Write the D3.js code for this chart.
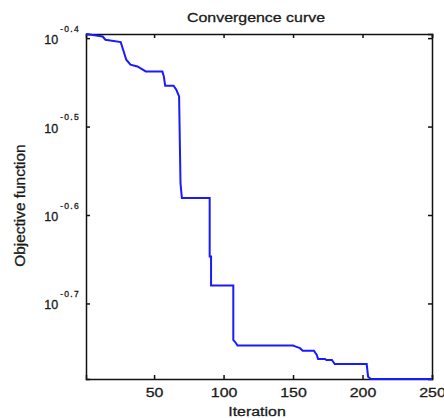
<!DOCTYPE html>
<html>
<head>
<meta charset="utf-8">
<script src="https://cdn.jsdelivr.net/npm/d3@7"></script>
<style>
  body { margin: 0; background: #fff; }
  text { font-family: "Liberation Sans", Arial, sans-serif; fill: #1a1a1a; stroke: #1a1a1a; stroke-width: 0.3; }
</style>
</head>
<body>
<svg id="chart" width="444" height="418"></svg>
<script>
// convergence history (breakpoints of the step curve)
var iterations = [1, 13, 15, 26, 30, 33, 38, 44, 56, 57, 58, 64, 66, 68, 69, 70, 90, 90, 91, 91,
                  107, 107, 109, 110, 150, 152, 155, 157, 165, 167, 168, 173, 174, 178, 180, 203, 204, 206, 250]
var objective = [0.4024, 0.3998, 0.3964, 0.3940, 0.3763, 0.3715, 0.3698, 0.3650, 0.3650, 0.3603,
                 0.3517, 0.3517, 0.3480, 0.3420, 0.2730, 0.2625, 0.2625, 0.2254, 0.2254, 0.2091,
                 0.2091, 0.1815, 0.1799, 0.1788, 0.1788, 0.1783, 0.1776, 0.1764, 0.1764, 0.1746,
                 0.1727, 0.1727, 0.1722, 0.1722, 0.1704, 0.1704, 0.1649, 0.1639, 0.1639]
var xTicks = [50, 100, 150, 200, 250]
var yTickExps = ["-0.4", "-0.5", "-0.6", "-0.7"]
var xRange = [1, 250]

var margin = {top: 34, right: 12, bottom: 39, left: 86}
var width = 444 - margin.left - margin.right
var height = 418 - margin.top - margin.bottom
var stretch = 1.18   // text in the reference is a bit wide

var svg = d3.select("#chart")
var g = svg.append("g").attr("transform", "translate(" + margin.left + "," + margin.top + ")")

var data = iterations.map(function(d, i){ return {it: d, val: objective[i]} })

var xScale = d3.scaleLinear().domain(xRange).range([0, width])
var yScale = d3.scaleLog().domain(d3.extent(objective)).range([height, 0])

// bottom + top axes, ticks inside
var xb = g.append("g").attr("transform", "translate(0," + height + ")")
  .call(d3.axisBottom(xScale).tickValues(xTicks).tickSize(-4).tickPadding(8).tickFormat(d3.format("d")))
xb.selectAll("text").attr("font-size", 13.5).attr("transform", "scale(" + stretch + ",1)")
g.append("g").call(d3.axisTop(xScale).tickValues(xTicks).tickSize(-4).tickFormat(""))

// left + right axes, labels as 10^exp
var yVals = yTickExps.map(function(e){ return Math.pow(10, +e) })
var yl = g.append("g")
  .call(d3.axisLeft(yScale).tickValues(yVals).tickSize(-4).tickPadding(6))
yl.selectAll(".tick text").each(function(d, i){
  var t = d3.select(this).text(null).attr("dy", 5.5).attr("font-size", 12.5)
  t.append("tspan").text("10")
  t.append("tspan").attr("font-size", 8.5).attr("dy", -12.5).attr("dx", 2)
    .attr("letter-spacing", 1.3).text(yTickExps[i])
})
g.append("g").attr("transform", "translate(" + width + ",0)")
  .call(d3.axisRight(yScale).tickValues(yVals).tickSize(-4).tickFormat(""))

g.selectAll(".domain").attr("stroke", "#111").attr("stroke-width", 1.5)
g.selectAll(".tick line").attr("stroke", "#111").attr("stroke-width", 1.5)

// curve
var line = d3.line()
  .x(function(d){ return xScale(d.it) })
  .y(function(d){ return yScale(d.val) })
g.append("path").datum(data)
  .attr("fill", "none")
  .attr("stroke", "#1a1aff")
  .attr("stroke-width", 2)
  .attr("d", line)

// titles
svg.append("text")
  .attr("transform", "translate(" + (margin.left + width / 2 - 3) + ",22) scale(" + stretch + ",1)")
  .attr("text-anchor", "middle").attr("font-size", 13.5)
  .text("Convergence curve")
svg.append("text")
  .attr("transform", "translate(" + (margin.left + width / 2 - 2) + ",416) scale(" + stretch + ",1)")
  .attr("text-anchor", "middle").attr("font-size", 13.5)
  .text("Iteration")
svg.append("text")
  .attr("transform", "translate(25," + (margin.top + height / 2 - 1) + ") rotate(-90) scale(1.1,1)")
  .attr("text-anchor", "middle").attr("font-size", 14)
  .text("Objective function")
</script>
</body>
</html>
